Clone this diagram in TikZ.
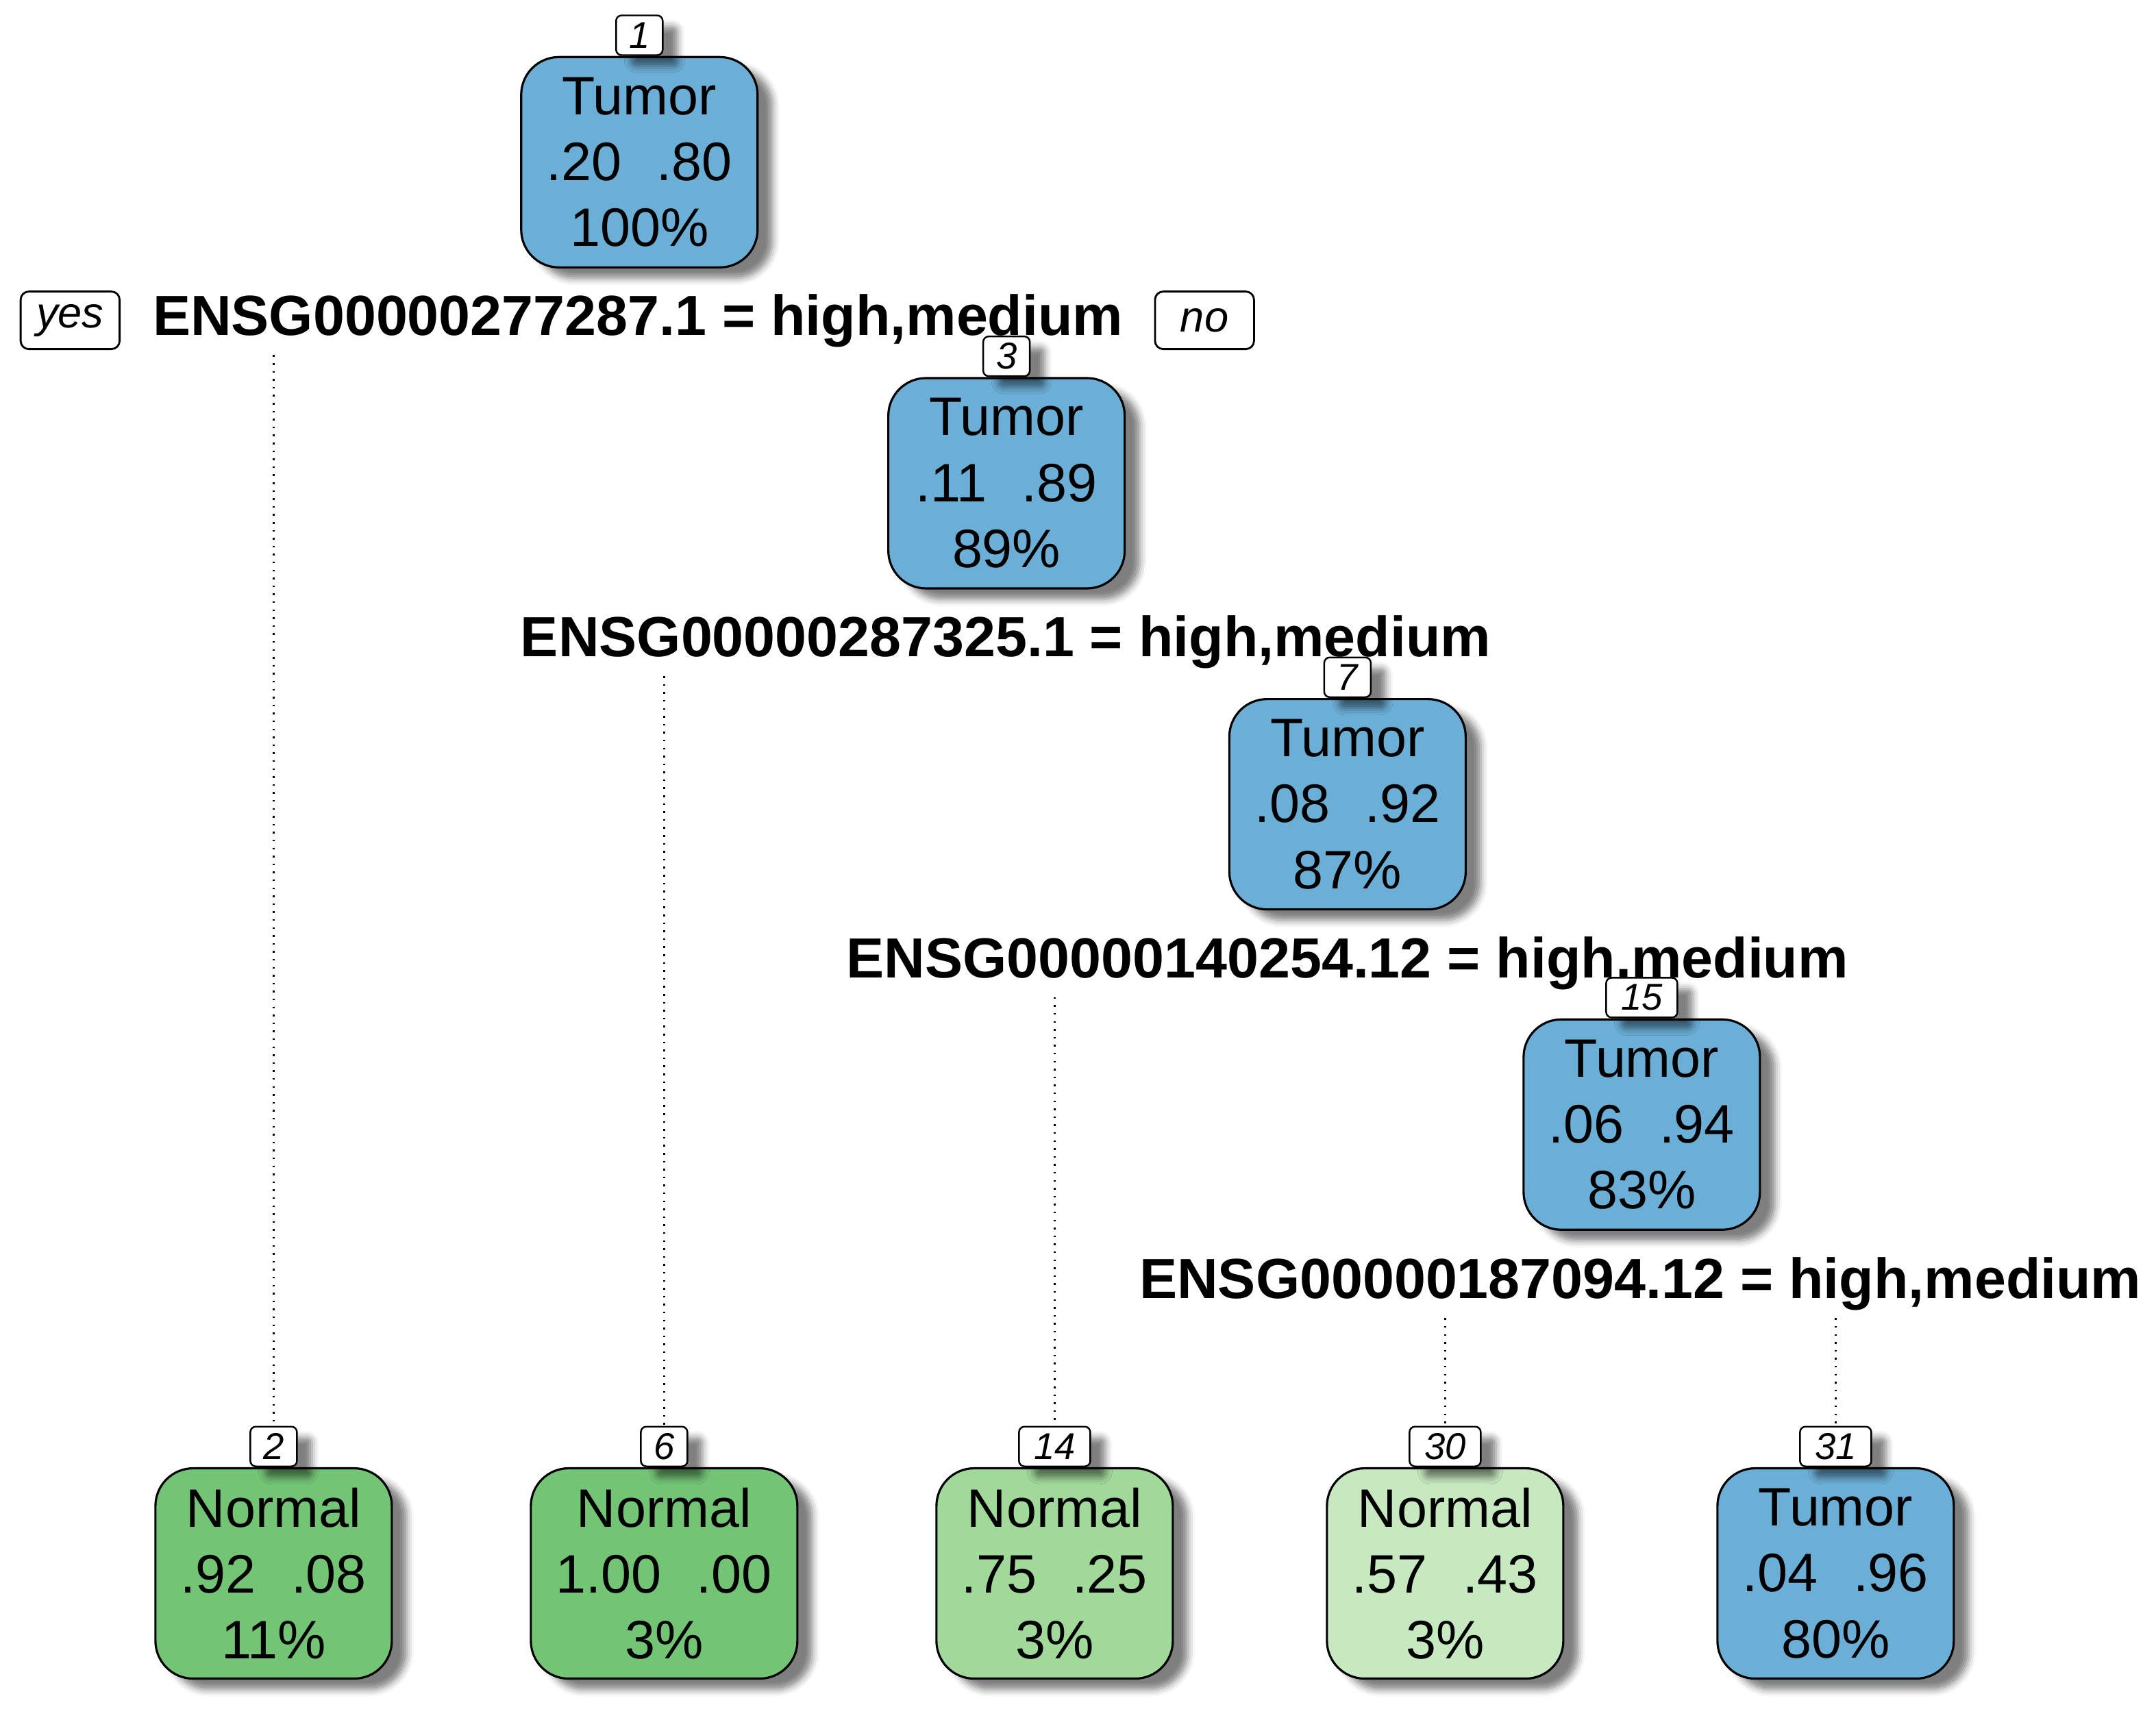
\documentclass[tikz,border=0pt]{standalone}
\usepackage{fontspec}
\setmainfont{Liberation Sans}
\usepackage{tikz}
\usetikzlibrary{positioning,shadows.blur}
\usepackage{xcolor}
\definecolor{TumBlue}{RGB}{107,174,214}
\definecolor{NormDark}{RGB}{116,196,118}
\definecolor{NormMid}{RGB}{161,217,155}
\definecolor{NormLight}{RGB}{199,233,192}
\newcommand{\pp}[2]{#1\hspace{0.65em}#2}

\begin{document}
\begin{tikzpicture}[x=0.2007mm,y=-0.2007mm,
  sh/.style={blur shadow={shadow xshift=2.2mm,shadow yshift=-1.6mm,shadow blur radius=1mm,shadow opacity=50}},
  box/.style={draw,line width=0.9pt,rounded corners=5.5mm,minimum width=34.5mm,minimum height=30.7mm,align=center,inner sep=0pt,font=\fontsize{22.5}{27.4}\selectfont,sh},
  numbox/.style={draw,fill=white,line width=0.7pt,rounded corners=0.8mm,minimum width=6.8mm,minimum height=5.8mm,inner sep=0pt,font=\fontsize{15.5}{17}\selectfont\itshape,sh},
  wide/.style={minimum width=10.4mm},
  split/.style={anchor=base,inner sep=3pt,font=\fontsize{23.5}{26}\selectfont\bfseries},
  yn/.style={draw,line width=0.8pt,rounded corners=1.2mm,minimum width=14.45mm,minimum height=8.4mm,inner sep=0pt,font=\fontsize{18}{20}\selectfont\itshape},
  dotline/.style={line width=0.7pt,dash pattern=on 0.7pt off 2.6pt}]
\useasboundingbox (0,0) rectangle (1568,1251);
% inner nodes
\node[box,fill=TumBlue] (t1) at (465,118) {Tumor\\\pp{.20}{.80}\\100\%};
\node[box,fill=TumBlue] (t3) at (732,351.5) {Tumor\\\pp{.11}{.89}\\89\%};
\node[box,fill=TumBlue] (t7) at (980,585) {Tumor\\\pp{.08}{.92}\\87\%};
\node[box,fill=TumBlue] (t15) at (1194,818) {Tumor\\\pp{.06}{.94}\\83\%};
% leaves
\node[box,fill=NormDark] (l2) at (199,1144.5) {Normal\\\pp{.92}{.08}\\11\%};
\node[box,fill=NormDark,minimum width=38.9mm] (l6) at (483,1144.5) {Normal\\\pp{1.00}{.00}\\3\%};
\node[box,fill=NormMid] (l14) at (767,1144.5) {Normal\\\pp{.75}{.25}\\3\%};
\node[box,fill=NormLight] (l30) at (1051,1144.5) {Normal\\\pp{.57}{.43}\\3\%};
\node[box,fill=TumBlue] (l31) at (1335,1144.5) {Tumor\\\pp{.04}{.96}\\80\%};
% split labels
\node[split] (s1) at (464,244) {ENSG00000277287.1 = high,medium};
\node[split] (s2) at (731.5,477.5) {ENSG00000287325.1 = high,medium};
\node[split] (s3) at (980,711) {ENSG00000140254.12 = high,medium};
\node[split] (s4) at (1193,944.5) {ENSG00000187094.12 = high,medium};
\node[yn] (yes) at (51,233) {yes};
\node[yn] (no) at (876,233) {no};
% node numbers
\node[numbox,above=0pt of t1] (n1) {1};
\node[numbox,above=0pt of t3] (n3) {3};
\node[numbox,above=0pt of t7] (n7) {7};
\node[numbox,wide,above=0pt of t15] (n15) {15};
\node[numbox,above=0pt of l2] (n2) {2};
\node[numbox,above=0pt of l6] (n6) {6};
\node[numbox,wide,above=0pt of l14] (n14) {14};
\node[numbox,wide,above=0pt of l30] (n30) {30};
\node[numbox,wide,above=0pt of l31] (n31) {31};
\foreach \s/\k in {s1/2,s2/6,s3/14,s4/30,s4/31}{\draw[dotline] (\s.south -| n\k) -- (n\k.north);}
\end{tikzpicture}
\end{document}
